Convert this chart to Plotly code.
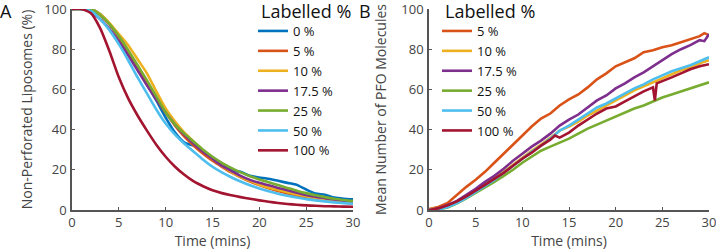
import plotly.graph_objects as go

# ---------------- Panel A data ----------------
time_a = list(range(0, 31))
labels_a = ["0 %", "5 %", "10 %", "17.5 %", "25 %", "50 %", "100 %"]
a_0 = [100, 100, 100, 97.5, 92.5, 86, 78.5, 70.5, 62.5, 54.5, 46, 38.5, 33.5, 32, 29, 25.5, 22.5, 19.8, 19, 17,
       16.2, 15.5, 14.5, 13.5, 12.5, 10.2, 8.2, 7.6, 6.2, 5.6, 5.3]
a_5 = [100, 100, 100, 97, 92.5, 86, 78.5, 71, 63, 55.5, 48.5, 42, 36.5, 32, 28, 24.5, 21.5, 18.7, 16.3, 14.2,
       12.4, 10.8, 9.4, 8.2, 7.1, 6.2, 5.4, 4.7, 4.1, 3.6, 3.2]
a_10 = [100, 100, 100, 97.5, 93, 87.5, 82, 75, 68, 59, 50.5, 44, 38.5, 34, 29.5, 25.5, 22, 19, 16.5, 14.5,
        12.7, 11.2, 10, 8.8, 7.7, 6.8, 6, 5.3, 4.7, 4.2, 3.8]
a_17 = [100, 100, 98.5, 95, 90, 84, 77, 69.5, 62, 55, 48.5, 42.5, 37.5, 33, 29, 25.5, 22, 19.5, 17, 15,
        13.5, 12.3, 11, 9.8, 8.6, 7.5, 6.6, 5.9, 5.2, 4.6, 4.2]
a_25 = [100, 100, 100, 97, 92.5, 86.5, 79.5, 72, 64.5, 56.5, 48.5, 42.5, 38, 34, 30, 26.5, 23.5, 21, 18.7, 16.8,
        15.2, 13.8, 12.4, 11, 9.6, 8.4, 7.3, 6.4, 5.6, 5, 4.4]
a_50 = [100, 100, 99, 95, 89.5, 82.5, 74.5, 66, 58, 50, 43, 37.5, 33, 29, 25, 21.5, 18.7, 16.3, 14.2, 12.3,
        10.7, 9.3, 8.1, 7.1, 6.2, 5.4, 4.8, 4.3, 3.8, 3.4, 3.1]
a_100 = [100, 100, 98, 90.5, 79, 66, 55.5, 47, 39.5, 32.5, 26.5, 21.5, 17.5, 14.2, 11.8, 9.8, 8.4, 7.3, 6.4, 5.6,
         4.8, 4.1, 3.5, 3, 2.6, 2.3, 2.1, 1.9, 1.8, 1.7, 1.6]

# ---------------- Panel B data ----------------
time_b = list(range(0, 30)) + [29.5, 30]
labels_b = ["5 %", "10 %", "17.5 %", "25 %", "50 %", "100 %"]
b_5 = [0.5, 1.5, 3.5, 7.5, 11.5, 15, 19, 23.5, 28, 32.5, 37.5, 41.5, 45.5, 48, 52, 55, 57.5, 61, 65, 68,
       71.5, 73.5, 75.5, 78.5, 79.5, 81, 82, 83.5, 85, 86.5, 88, 87]
b_10 = [0.3, 0.8, 2, 4, 6.5, 9.5, 12.5, 15.5, 19, 22.5, 26, 29.5, 32.5, 36, 39.5, 41.5, 44, 47, 49.5, 52,
        54.5, 57, 59.5, 61.5, 63.5, 65.5, 67.5, 69.5, 71, 73, 73.8, 74.5]
b_17 = [0, 0.8, 2.5, 4.5, 7.5, 10.5, 14, 17, 20.5, 24.5, 28, 31.5, 34.5, 38, 42, 45, 47.5, 51, 54.5, 57,
        60.5, 63, 66, 68.5, 71.5, 74.5, 77.5, 80, 82, 84.5, 84, 87.5]
b_25 = [0, 0.3, 1.3, 3.3, 5.8, 8.5, 11, 14, 17, 20, 23.5, 26.5, 29.5, 31.5, 33.5, 35.5, 38, 40.5, 42.5, 44.5,
        46.5, 48.5, 50.5, 52, 54, 56, 57.5, 59, 60.5, 62, 62.8, 63.5]
b_50 = [0, 0.2, 1.5, 3.5, 6, 9, 12, 15, 18.5, 22, 25.5, 29, 32, 35.5, 39.5, 42, 45, 48, 51, 53,
        55.5, 58, 60.5, 62.5, 65, 67, 69, 70.5, 72, 74, 75, 76]
time_b100 = [0, 1, 2, 3, 4, 5, 6, 7, 8, 9, 10, 11, 12, 13, 13.5, 14, 15, 16, 17, 18, 19, 20, 21, 22, 23, 24,
             24.2, 24.4, 25, 26, 27, 28, 29, 30]
b_100 = [0, 0.8, 2.3, 4.3, 6.8, 9.5, 12.5, 15.5, 18.5, 22, 25.5, 28.5, 32, 35, 37, 36, 38.5, 42, 45, 48,
         50.5, 51.5, 54, 56.5, 59, 61, 54.5, 63, 64, 66, 68, 70, 71.5, 72.5]

colors = {"0 %": "#0072BD", "5 %": "#D95319", "10 %": "#EDB120", "17.5 %": "#7E2F8E",
          "25 %": "#77AC30", "50 %": "#4DBEEE", "100 %": "#A2142F"}

FONT = "Open Sans"
GREY = "#444444"
fig = go.Figure()

for lab, ys in zip(labels_a, [a_0, a_5, a_10, a_17, a_25, a_50, a_100]):
    fig.add_trace(go.Scatter(x=time_a, y=ys, mode="lines", name=lab,
                             line=dict(color=colors[lab], width=2.6, shape="spline", smoothing=0.6),
                             xaxis="x", yaxis="y", legend="legend"))

b_series = [(time_b, b_5), (time_b, b_10), (time_b, b_17), (time_b, b_25), (time_b, b_50), (time_b100, b_100)]
for lab, (xs, ys) in zip(labels_b, b_series):
    fig.add_trace(go.Scatter(x=xs, y=ys, mode="lines", name=lab, line=dict(color=colors[lab], width=2.6),
                             xaxis="x2", yaxis="y2", legend="legend2"))

axis_common = dict(showline=True, linecolor="#555555", linewidth=1.5, ticks="inside", ticklen=3,
                   tickcolor="#555555", tickwidth=1, showgrid=False, zeroline=False, automargin=False,
                   ticklabeloverflow="allow",
                   tickfont=dict(family=FONT, size=13, color=GREY), mirror=False)
title_font = dict(size=14, family=FONT, color=GREY)

W = 637.0
H = 201.0
fig.update_layout(
    width=716, height=250,
    margin=dict(l=72, r=7, t=9, b=40),
    paper_bgcolor="white", plot_bgcolor="white",
    font=dict(family=FONT, color=GREY),
    xaxis=dict(domain=[0, 281 / W], range=[0, 30], tickvals=[0, 5, 10, 15, 20, 25, 30],
               title=dict(text="Time (mins)", font=title_font, standoff=4), anchor="y", **axis_common),
    yaxis=dict(domain=[0, 1], range=[0, 100], tickvals=[0, 20, 40, 60, 80, 100], ticklabelstandoff=1,
               title=dict(text="Non-Perforated Liposomes (%)", font=title_font, standoff=8), anchor="x", **axis_common),
    xaxis2=dict(domain=[357 / W, 1], range=[0, 30], tickvals=[0, 5, 10, 15, 20, 25, 30],
                title=dict(text="Time (mins)", font=title_font, standoff=4), anchor="y2", **axis_common),
    yaxis2=dict(domain=[0, 1], range=[0, 100], tickvals=[0, 20, 40, 60, 80, 100], ticklabelstandoff=1,
                title=dict(text="Mean Number of PFO Molecules", font=title_font, standoff=11), anchor="x2", **axis_common),
    legend=dict(x=(253 - 72) / W, y=1 - (16 - 9) / H, xanchor="left", yanchor="top", bgcolor="rgba(0,0,0,0)",
                font=dict(size=13, family=FONT, color="#111111"), itemwidth=30, tracegroupgap=0),
    legend2=dict(x=(437 - 72) / W, y=1 - (16 - 9) / H, xanchor="left", yanchor="top", bgcolor="rgba(0,0,0,0)",
                 font=dict(size=13, family=FONT, color="#111111"), itemwidth=30, tracegroupgap=0),
    annotations=[
        dict(text="A", x=-74 / W, y=1.06, xref="paper", yref="paper", xanchor="left", yanchor="top",
             showarrow=False, font=dict(size=18, family=FONT, color="#111111")),
        dict(text="B", x=(357 - 72) / W, y=1.06, xref="paper", yref="paper", xanchor="left", yanchor="top",
             showarrow=False, font=dict(size=18, family=FONT, color="#111111")),
        dict(text="Labelled %", x=(259 - 72) / W, y=1 - (11 - 9) / H, xref="paper", yref="paper",
             xanchor="left", yanchor="middle", showarrow=False, font=dict(size=18, family=FONT, color="#111111")),
        dict(text="Labelled %", x=(443 - 72) / W, y=1 - (11 - 9) / H, xref="paper", yref="paper",
             xanchor="left", yanchor="middle", showarrow=False, font=dict(size=18, family=FONT, color="#111111")),
    ],
)

fig.write_html("out.html", config={"displayModeBar": False},
               post_script="document.body.style.margin='0px';")
